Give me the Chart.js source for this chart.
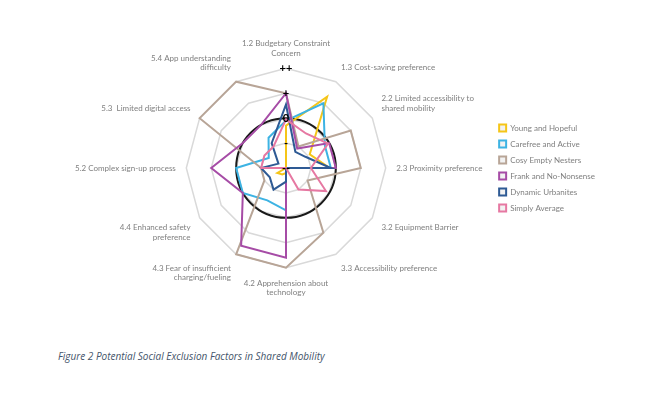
<!DOCTYPE html>
<html>
<head>
<meta charset="utf-8">
<script src="https://cdn.jsdelivr.net/npm/chart.js@4.4.1/dist/chart.umd.min.js"></script>
<style>
  body { margin: 0; background: #fff; }
  #wrap { position: absolute; left: 0; top: 0; width: 662px; height: 340px; }
  #caption {
    position: absolute; left: 58px; top: 349px;
    font-family: "Open Sans", sans-serif; font-style: italic; font-size: 10px;
    color: #44546a;
  }
</style>
</head>
<body>
<div id="wrap"><canvas id="radar" width="662" height="340"></canvas></div>
<div id="caption">Figure 2 Potential Social Exclusion Factors in Shared Mobility</div>
<script>
const categorias = [
  ["1.2 Budgetary Constraint", "Concern"],
  "1.3 Cost-saving preference",
  ["2.2 Limited accessibility to", "shared mobility"],
  "2.3 Proximity preference",
  "3.2 Equipment Barrier",
  "3.3 Accessibility preference",
  ["4.2 Apprehension about", "technology"],
  ["4.3 Fear of insufficient", "charging/fueling"],
  ["4.4 Enhanced safety", "preference"],
  "5.2 Complex sign-up process",
  "5.3  Limited digital access",
  ["5.4 App understanding", "difficulty"]
];

const tickLabels = ["--", "-", "0", "+", "++"];

const youngHopeful     = [-0.3, 1.3, -0.9, -0.25, -2, -2, -1.8, -1.7, -1.6, -2, -2, -2];
const carefreeActive   = [-0.1, 1.0, -0.2, -0.2, -2, -2, -0.3, -0.5, 0, 0, -1.2, -0.6];
const cosyEmptyNesters = [1, -1, 1, 1, -1, 1, 2, 2, -1, -1, 2, 2];
const frankNoNonsense  = [1, -1.1, 0, 0, -2, -2, 1.6, 1.6, 0, 1, 0, 0];
const dynamicUrbanites = [0.55, -1.25, -1.1, -0.2, -2, -2, -1.45, -1, -1.25, -1, -1.65, -0.85];
const simplyAverage    = [-0.05, -0.4, -0.05, -1, -0.15, -1, -2, -2, -2, -1, -1, -1];

const series = [
  { label: "Young and Hopeful", data: youngHopeful, cor: "#f5c518" },
  { label: "Carefree and Active", data: carefreeActive, cor: "#3db3e3" },
  { label: "Cosy Empty Nesters", data: cosyEmptyNesters, cor: "#b8a597" },
  { label: "Frank and No-Nonsense", data: frankNoNonsense, cor: "#a64ca6" },
  { label: "Dynamic Urbanites", data: dynamicUrbanites, cor: "#2e5a94" },
  { label: "Simply Average", data: simplyAverage, cor: "#e678a2" }
];

// black reference circle at the "0" level
const circuloZero = {
  id: "circuloZero",
  beforeDatasetsDraw(chart) {
    const r = chart.scales.r;
    const ctx = chart.ctx;
    ctx.save();
    ctx.beginPath();
    ctx.arc(r.xCenter, r.yCenter, r.getDistanceFromCenterForValue(0), 0, Math.PI * 2);
    ctx.strokeStyle = "#1a1a1a";
    ctx.lineWidth = 2;
    ctx.stroke();
    ctx.restore();
  }
};

const ctx = document.getElementById("radar").getContext("2d");

new Chart(ctx, {
  type: "radar",
  data: {
    labels: categorias,
    datasets: series.map((s, i) => ({
      label: s.label,
      data: s.data,
      borderColor: s.cor,
      backgroundColor: "rgba(0,0,0,0)",
      borderWidth: 2,
      pointRadius: 0,
      fill: false,
      order: series.length - i
    }))
  },
  options: {
    responsive: false,
    animation: false,
    layout: { padding: { left: 68, right: 57, top: 9, bottom: 13 } },
    plugins: {
      tooltip: { enabled: false },
      legend: {
        position: "right",
        labels: {
          boxWidth: 7,
          boxHeight: 7,
          padding: 8,
          color: "#7f7f7f",
          font: { family: "Lato", size: 8 },
          sort: (a, b) => a.datasetIndex - b.datasetIndex,
          generateLabels(chart) {
            return chart.data.datasets.map((d, i) => ({
              text: d.label,
              fillStyle: "#f2f2f2",
              strokeStyle: d.borderColor,
              lineWidth: 2,
              fontColor: "#7f7f7f",
              datasetIndex: i
            }));
          }
        }
      }
    },
    scales: {
      r: {
        min: -2,
        max: 2,
        ticks: {
          stepSize: 1,
          showLabelBackdrop: false,
          backdropPadding: 0,
          color: "#000",
          font: { family: "Lato", size: 11, weight: "bold" },
          z: 1,
          callback: (v) => tickLabels[v + 2]
        },
        grid: { color: "#d9d9d9", lineWidth: 1.5 },
        angleLines: { display: false },
        pointLabels: {
          color: "#7f7f7f",
          padding: 5,
          font: { family: "Lato", size: 8 }
        }
      }
    }
  },
  plugins: [circuloZero]
});
</script>
</body>
</html>
